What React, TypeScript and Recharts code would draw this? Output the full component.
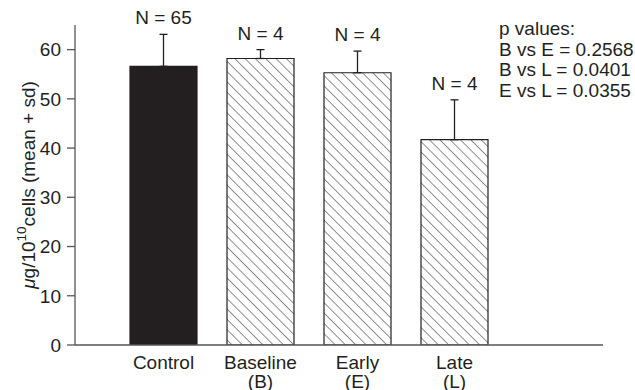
import React from 'react';
import { BarChart, Bar, XAxis, YAxis, ErrorBar, LabelList, Cell, Label } from 'recharts';

const categories = ['Control', 'Baseline', 'Early', 'Late'];
const subLabels = ['', '(B)', '(E)', '(L)'];
const means = [56.6, 58.2, 55.3, 41.7];
const sds = [6.5, 1.8, 4.4, 8.1];
const counts = [65, 4, 4, 4];
const pValueLines = ['p values:', 'B vs E = 0.2568', 'B vs L = 0.0401', 'E vs L = 0.0355'];
const yTicks = [0, 10, 20, 30, 40, 50, 60];

const FONT = '"Liberation Sans", Arial, Helvetica, sans-serif';
const INK = '#231f20';
const AXIS = '#555555';

const data = categories.map((c, i) => ({
  name: c,
  sub: subLabels[i],
  mean: means[i],
  err: [0, sds[i]],
  n: counts[i],
}));

const XTick = (props: any) => {
  const { x, y, payload } = props;
  const idx = payload.index;
  return (
    <g>
      <text x={x} y={y + 23.5} textAnchor="middle" fontSize={19} fontFamily={FONT} fill={INK}>
        {categories[idx]}
      </text>
      {subLabels[idx] ? (
        <text x={x} y={y + 43} textAnchor="middle" fontSize={19} fontFamily={FONT} fill={INK}>
          {subLabels[idx]}
        </text>
      ) : null}
    </g>
  );
};

const NLabel = (props: any) => {
  const { x, y, width, height, index, value } = props;
  const pxPerUnit = height / means[index];
  const errTop = y - sds[index] * pxPerUnit;
  return (
    <text x={x + width / 2} y={errTop - 10} textAnchor="middle" fontSize={19} fontFamily={FONT} fill={INK}>
      {`N = ${value}`}
    </text>
  );
};

const YLabel = (props: any) => {
  const vb = props.viewBox || {};
  const cx = 28;
  const cy = vb.y + vb.height / 2;
  return (
    <text
      x={cx}
      y={cy}
      transform={`rotate(-90, ${cx}, ${cy})`}
      textAnchor="middle"
      dominantBaseline="central"
      fontSize={19}
      fontFamily={FONT}
      fill={INK}
    >
      <tspan fontStyle="italic">μ</tspan>
      <tspan>g/10</tspan>
      <tspan dy={-7} fontSize={13.5}>10</tspan>
      <tspan dy={7}>cells (mean + sd)</tspan>
    </text>
  );
};

export default function App() {
  return (
    <div style={{ position: 'absolute', left: 0, top: 0, width: 635, height: 390, background: '#fff' }}>
      <BarChart
        width={635}
        height={390}
        data={data}
        margin={{ top: 25, right: 32, bottom: 0, left: 0 }}
        barCategoryGap={15}
      >
        <defs>
          <pattern id="hatch" patternUnits="userSpaceOnUse" width={7.3} height={7.3} patternTransform="rotate(-45)">
            <rect x={0} y={0} width={7.3} height={7.3} fill="#fff" />
            <line x1={0} y1={0} x2={0} y2={7.3} stroke={INK} strokeWidth={1} />
          </pattern>
        </defs>
        <XAxis
          dataKey="name"
          height={45}
          padding={{ left: 40, right: 100 }}
          tickLine={false}
          tickSize={0}
          tickMargin={0}
          tick={<XTick />}
          axisLine={{ stroke: AXIS, strokeWidth: 1.3 }}
          interval={0}
        />
        <YAxis
          width={75}
          domain={[0, 65]}
          ticks={yTicks}
          allowDataOverflow
          tickSize={8}
          tickMargin={6}
          tick={{ fontSize: 19, fontFamily: FONT, fill: INK }}
          tickLine={{ stroke: AXIS, strokeWidth: 1.3 }}
          axisLine={{ stroke: AXIS, strokeWidth: 1.3 }}
        >
          <Label content={<YLabel />} />
        </YAxis>
        <Bar dataKey="mean" isAnimationActive={false} stroke={INK} strokeWidth={1.2}>
          {data.map((d, i) => (
            <Cell key={d.name} fill={i === 0 ? INK : 'url(#hatch)'} />
          ))}
          <ErrorBar dataKey="err" direction="y" width={4} stroke={INK} strokeWidth={1.3} isAnimationActive={false} />
          <LabelList dataKey="n" content={<NLabel />} />
        </Bar>
      </BarChart>
      <svg width={635} height={390} style={{ position: 'absolute', left: 0, top: 0, pointerEvents: 'none' }}>
        {pValueLines.map((line, i) => (
          <text key={line} x={499} y={35 + i * 20.5} fontSize={19} fontFamily={FONT} fill={INK}>
            {line}
          </text>
        ))}
      </svg>
    </div>
  );
}
